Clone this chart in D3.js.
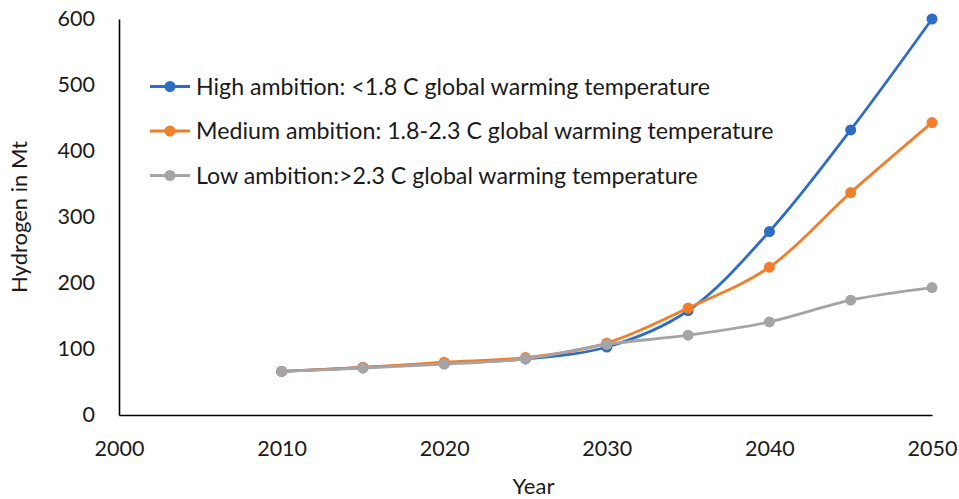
<!DOCTYPE html>
<html>
<head>
<meta charset="utf-8">
<script src="https://cdn.jsdelivr.net/npm/d3@7"></script>
<style>
  html, body { margin: 0; padding: 0; background: #fff; }
  svg { display: block; font-family: Lato, "Open Sans", sans-serif; }
</style>
</head>
<body>
<svg id="chart" width="959" height="499"></svg>
<script>
// Hydrogen demand scenarios (Mt) by year
const years = [2010, 2015, 2020, 2025, 2030, 2035, 2040, 2045, 2050];
const highAmbition = [66, 72, 78, 85, 103, 158, 278, 432, 600];
const mediumAmbition = [66, 72, 80, 87, 109, 162, 224, 337, 443];
const lowAmbition = [66, 71, 77, 85, 107, 121, 141, 174, 193];

const seriesNames = [
  "High ambition: <1.8 C global warming temperature",
  "Medium ambition: 1.8-2.3 C global warming temperature",
  "Low ambition:>2.3 C global warming temperature"
];
const seriesColors = ["#2F6CC6", "#F07F2B", "#A5A5A5"];
const xTicks = [2000, 2010, 2020, 2030, 2040, 2050];
const yTicks = [0, 100, 200, 300, 400, 500, 600];

const series = [highAmbition, mediumAmbition, lowAmbition].map((vals, i) => ({
  name: seriesNames[i],
  color: seriesColors[i],
  points: years.map((y, j) => ({ year: y, value: vals[j] }))
}));

const svg = d3.select("#chart");
const margin = { left: 119, right: 27, top: 19, bottom: 84 };
const W = 959, H = 499;
const textColor = "#1a1a1a";

const x = d3.scaleLinear().domain([2000, 2050]).range([margin.left, W - margin.right]);
const y = d3.scaleLinear().domain([0, 600]).range([H - margin.bottom, margin.top]);

// Axes
const xAxis = svg.append("g")
  .attr("transform", `translate(0,${y(0)})`)
  .call(d3.axisBottom(x).tickValues(xTicks).tickFormat(d3.format("d")).tickSize(0).tickPadding(26));
const yAxis = svg.append("g")
  .attr("transform", `translate(${x(2000)},0)`)
  .call(d3.axisLeft(y).tickValues(yTicks).tickSize(0).tickPadding(24));

[xAxis, yAxis].forEach(g => {
  g.select(".domain").attr("stroke", "#000").attr("stroke-width", 1.6);
  g.selectAll("text").attr("font-size", 21.5).attr("fill", textColor).attr("font-family", "Lato, sans-serif");
});

// Axis titles
svg.append("text")
  .attr("x", (x(2000) + x(2050)) / 2 + 8)
  .attr("y", 494)
  .attr("text-anchor", "middle")
  .attr("font-size", 22)
  .attr("fill", textColor)
  .text("Year");

svg.append("text")
  .attr("transform", `translate(27,${(y(0) + y(600)) / 2}) rotate(-90)`)
  .attr("text-anchor", "middle")
  .attr("font-size", 22)
  .attr("fill", textColor)
  .text("Hydrogen in Mt");

// Smoothed series lines with markers
const line = d3.line()
  .x(d => x(d.year))
  .y(d => y(d.value))
  .curve(d3.curveCatmullRom.alpha(0.5));

series.forEach(s => {
  const g = svg.append("g");
  g.append("path")
    .datum(s.points)
    .attr("fill", "none")
    .attr("stroke", s.color)
    .attr("stroke-width", 2.8)
    .attr("d", line);
  g.selectAll("circle")
    .data(s.points)
    .join("circle")
    .attr("cx", d => x(d.year))
    .attr("cy", d => y(d.value))
    .attr("r", 5.5)
    .attr("fill", s.color);
});

// Legend
const legend = svg.append("g");
series.forEach((s, i) => {
  const ly = 86.5 + i * 44.5;
  legend.append("line")
    .attr("x1", 150).attr("x2", 190)
    .attr("y1", ly).attr("y2", ly)
    .attr("stroke", s.color).attr("stroke-width", 2.8);
  legend.append("circle")
    .attr("cx", 170).attr("cy", ly).attr("r", 5.5).attr("fill", s.color);
  legend.append("text")
    .attr("x", 196).attr("y", ly)
    .attr("dy", "0.35em")
    .attr("font-size", 23.2)
    .attr("fill", textColor)
    .text(s.name);
});
</script>
</body>
</html>
